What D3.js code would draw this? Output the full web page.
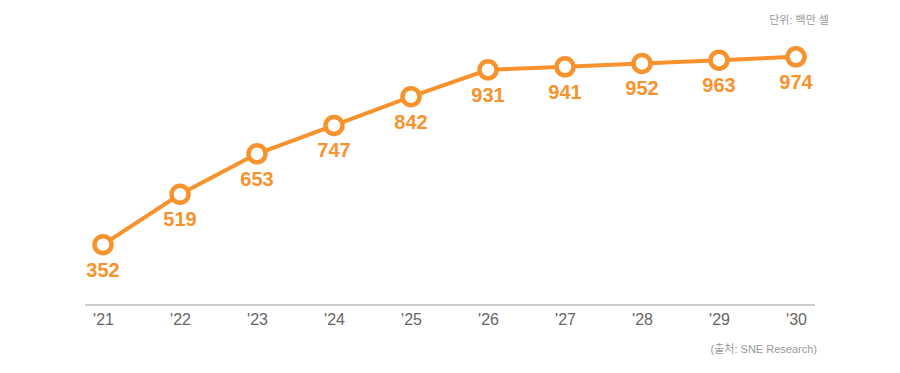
<!DOCTYPE html>
<html>
<head>
<meta charset="utf-8">
<script src="https://cdn.jsdelivr.net/npm/d3@7"></script>
<style>
  body { margin: 0; background: #fff; }
  #lineChart text { font-family: "Liberation Sans", Arial, "Noto Sans CJK KR", sans-serif; }
  #lineChart text.kr { font-family: "Liberation Sans", "Noto Sans CJK KR", sans-serif; }
</style>
</head>
<body>
<div id="lineChart"></div>
<script>
const years = ["'21", "'22", "'23", "'24", "'25", "'26", "'27", "'28", "'29", "'30"];
const cells = [352, 519, 653, 747, 842, 931, 941, 952, 963, 974];
const unitLabel = '단위: 백만 셀';
const sourceLabel = '(출처: SNE Research)';

const width = 900;
const height = 373;
const orange = '#f7922d';

const svg = d3.select('#lineChart')
  .append('svg')
  .attr('width', width)
  .attr('height', height);

// X Scale
const x = d3.scalePoint()
  .domain(years)
  .range([103, 796]);

// Y Scale
const y = d3.scaleLinear()
  .domain([0, 1000])
  .range([351, 49]);

// baseline axis
const axis = svg.append('g')
  .attr('transform', 'translate(0, 305)')
  .call(d3.axisBottom(x).tickSize(0).tickPadding(9));
axis.select('.domain')
  .attr('d', 'M85,0H815')
  .attr('stroke', '#bdbdbd')
  .attr('stroke-width', 1.5);
axis.selectAll('text')
  .attr('fill', '#666')
  .attr('font-size', 16);

// line
const line = d3.line()
  .x((d, i) => x(years[i]))
  .y(d => y(d));

svg.append('path')
  .datum(cells)
  .attr('fill', 'none')
  .attr('stroke', orange)
  .attr('stroke-width', 4)
  .attr('d', line);

// points
svg.selectAll('circle.pt')
  .data(cells)
  .enter()
  .append('circle')
  .attr('class', 'pt')
  .attr('cx', (d, i) => x(years[i]))
  .attr('cy', d => y(d))
  .attr('r', 8.5)
  .attr('fill', '#fff')
  .attr('stroke', orange)
  .attr('stroke-width', 4.5);

// value labels
svg.selectAll('text.val')
  .data(cells)
  .enter()
  .append('text')
  .attr('class', 'val')
  .attr('x', (d, i) => x(years[i]))
  .attr('y', d => y(d) + 32)
  .attr('text-anchor', 'middle')
  .attr('fill', orange)
  .attr('font-size', 20)
  .attr('font-weight', 'bold')
  .text(d => d);

// unit
svg.append('text')
  .attr('class', 'kr')
  .attr('x', 829)
  .attr('y', 24)
  .attr('text-anchor', 'end')
  .attr('fill', '#999')
  .attr('font-size', 11)
  .text(unitLabel);

// source
svg.append('text')
  .attr('class', 'kr')
  .attr('x', 817)
  .attr('y', 353)
  .attr('text-anchor', 'end')
  .attr('fill', '#999')
  .attr('font-size', 11)
  .text(sourceLabel);
</script>
</body>
</html>
